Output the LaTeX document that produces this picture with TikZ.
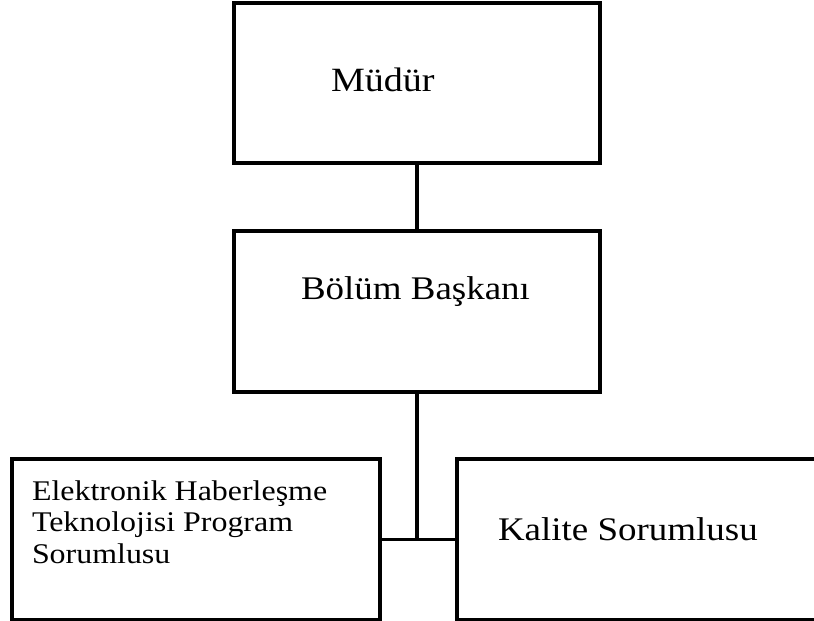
\documentclass[tikz,border=0pt]{standalone}
\usepackage{fontspec}
\setmainfont{Liberation Serif}
\begin{document}
\begin{tikzpicture}[x=1pt,y=-1pt,
  box/.style={draw=black, line width=3.2pt, rectangle, inner sep=0pt, outer sep=0pt, anchor=north west},
  conn/.style={draw=black, line width=3.2pt},
  lbl/.style={anchor=base west, inner sep=0pt, outer sep=0pt, xscale=1.12, align=left}]
\useasboundingbox (0,0) rectangle (814,621);
\clip (0,0) rectangle (814,621);
\fill[white] (0,0) rectangle (814,621);
% boxes
\node[box, minimum width=366pt, minimum height=160pt] (m) at (234,3) {};
\node[box, minimum width=366pt, minimum height=161pt] (b) at (234,231) {};
\node[box, minimum width=368pt, minimum height=161pt] (l) at (12,459) {};
\node[box, minimum width=380pt, minimum height=161pt] (r) at (457,459) {};
% texts
\node[lbl, font=\fontsize{34}{40}\selectfont] (mt) at (331,91) {Müdür};
\node[lbl, font=\fontsize{33}{40}\selectfont] (bt) at (301,299) {Bölüm Başkanı};
\node[lbl, font=\fontsize{33}{40}\selectfont] (rt) at (498,540) {Kalite Sorumlusu};
\node[lbl, font=\fontsize{28.5}{31.5}\selectfont] (lt) at (32,563) {Elektronik Haberleşme\\Teknolojisi Program\\Sorumlusu};
% connectors
\draw[conn] (m.south) -- (b.north);
\draw[conn] (l.east) -- (r.west);
\draw[conn] (b.south) -- (b.south |- l.east);
\end{tikzpicture}
\end{document}
